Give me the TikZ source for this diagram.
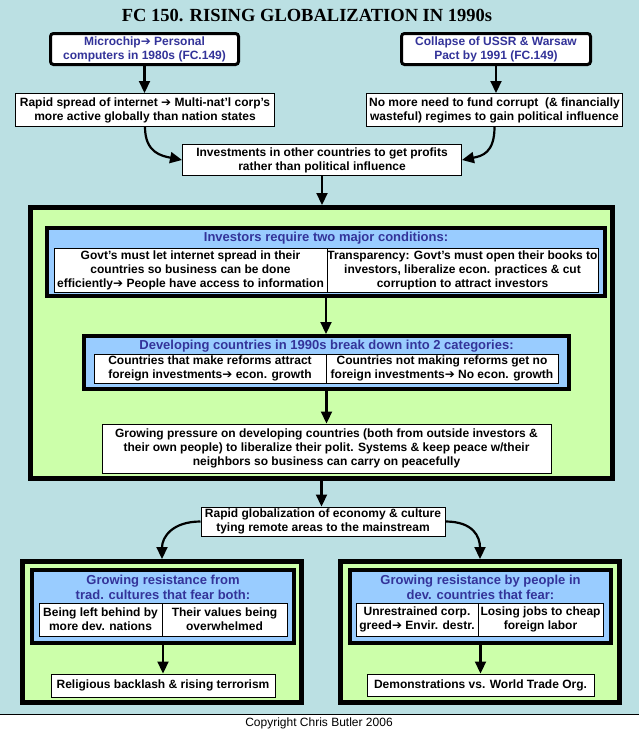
\documentclass[tikz,border=0pt]{standalone}
\usepackage{fontspec}
\setmainfont{Liberation Sans}
\newfontfamily\titlefont{Liberation Serif}
\newfontfamily\symfont{DejaVu Sans}
\usetikzlibrary{arrows.meta}
\definecolor{bgc}{HTML}{BBE0E3}
\definecolor{greenc}{HTML}{CCFFAA}
\definecolor{bluec}{HTML}{99CCFF}
\definecolor{tblue}{HTML}{333399}
\newcommand{\rarr}{{\symfont\fontsize{12}{12}\selectfont ➔}}
\newcommand{\mainfs}{\fontsize{12}{14}\selectfont\bfseries}
\newcommand{\titfs}{\fontsize{13}{15}\selectfont\bfseries}
\tikzset{
  wbox/.style={draw, fill=white, line width=1pt, inner sep=0pt, align=center, font=\mainfs},
  rbox/.style={draw, fill=white, line width=3pt, rounded corners=3pt, inner sep=0pt, align=center, font=\mainfs, text=tblue},
  gbox/.style={draw, fill=greenc, line width=5pt, inner sep=0pt},
  bbox/.style={draw, fill=bluec, line width=4pt, inner sep=0pt},
  btitle/.style={inner sep=0pt, align=center, font=\titfs, text=tblue},
  arr/.style={line width=2.2pt, -{Triangle[width=11pt,length=12pt]}}
}
\begin{document}
\begin{tikzpicture}[x=1pt,y=-1pt]
\useasboundingbox (0,0) rectangle (639,731);
\fill[bgc] (0,0) rectangle (639,714);
\fill[white] (0,714) rectangle (639,731);
\draw[line width=1pt] (0,714) -- (639,714);

\node[anchor=base, inner sep=0pt, font=\titlefont\bfseries\fontsize{18.5}{20}\selectfont] (title) at (307,21) {FC 150. RISING GLOBALIZATION IN 1990s};

\node[rbox, minimum width=188, minimum height=31] (micro) at (144.5,49) {Microchip\rarr{} Personal\\computers in 1980s (FC.149)};
\node[rbox, minimum width=189, minimum height=31] (coll) at (496,49) {Collapse of USSR \& Warsaw\\Pact by 1991 (FC.149)};

\node[wbox, minimum width=259, minimum height=33] (inet) at (145,110) {Rapid spread of internet \rarr{} Multi-nat’l corp’s\\more active globally than nation states};
\node[wbox, minimum width=256, minimum height=33] (nomore) at (494.5,110) {No more need to fund corrupt\ \ (\& financially\\wasteful) regimes to gain political influence};

\node[wbox, minimum width=279, minimum height=31] (inv) at (322,160) {Investments in other countries to get profits\\rather than political influence};

\node[gbox, minimum width=582, minimum height=271] (bigg) at (321.5,343) {};

\node[bbox, minimum width=558, minimum height=68] (req) at (326,262) {};
\node[btitle] (reqt) at (326,238) {Investors require two major conditions:};
\node[wbox, minimum width=273, minimum height=44] (req1) at (190.5,270) {Govt’s must let internet spread in their\\countries so business can be done\\efficiently\rarr{} People have access to information};
\node[wbox, minimum width=271, minimum height=44] (req2) at (462.5,270) {Transparency: Govt’s must open their books to\\investors, liberalize econ. practices \& cut\\corruption to attract investors};

\node[bbox, minimum width=485, minimum height=53] (dev) at (326.5,362.5) {};
\node[btitle] (devt) at (326.5,346) {Developing countries in 1990s break down into 2 categories:};
\node[wbox, minimum width=232, minimum height=29] (dev1) at (210,368.5) {Countries that make reforms attract\\foreign investments\rarr{} econ. growth};
\node[wbox, minimum width=232, minimum height=29] (dev2) at (442,368.5) {Countries not making reforms get no\\foreign investments\rarr{} No econ. growth};

\node[wbox, minimum width=449, minimum height=49] (press) at (326.5,448.5) {Growing pressure on developing countries (both from outside investors \&\\their own people) to liberalize their polit. Systems \& keep peace w/their\\neighbors so business can carry on peacefully};

\node[wbox, minimum width=244, minimum height=29] (rapid) at (323,521.5) {Rapid globalization of economy \& culture\\tying remote areas to the mainstream};

\node[gbox, minimum width=279, minimum height=141] (lg) at (162,632) {};
\node[bbox, minimum width=262, minimum height=73] (lb) at (163,606.5) {};
\node[btitle] (lbt) at (163,587.5) {Growing resistance from\\trad. cultures that fear both:};
\node[wbox, minimum width=123, minimum height=33] (lc1) at (100.5,619.5) {Being left behind by\\more dev. nations};
\node[wbox, minimum width=125, minimum height=33] (lc2) at (224.5,619.5) {Their values being\\overwhelmed};
\node[wbox, minimum width=224, minimum height=23] (rel) at (163,685.5) {Religious backlash \& rising terrorism};

\node[gbox, minimum width=279, minimum height=141] (rg) at (480,632) {};
\node[bbox, minimum width=261, minimum height=73] (rb) at (480.5,606.5) {};
\node[btitle] (rbt) at (480.5,587.5) {Growing resistance by people in\\dev. countries that fear:};
\node[wbox, minimum width=122, minimum height=33] (rc1) at (417,619.5) {Unrestrained corp.\\greed\rarr{} Envir. destr.};
\node[wbox, minimum width=125, minimum height=33] (rc2) at (540.5,619.5) {Losing jobs to cheap\\foreign labor};
\node[wbox, minimum width=227, minimum height=22] (demo) at (480.5,685) {Demonstrations vs. World Trade Org.};

\node[inner sep=0pt, font=\fontsize{12}{14}\selectfont] (copy) at (319,723) {Copyright Chris Butler 2006};

\draw[arr] (micro.south) -- (micro.south |- inet.north);
\draw[arr] (coll.south) -- (coll.south |- nomore.north);
\draw[arr] (inet.south) .. controls +(0,26) and +(-20,-4) .. (inv.west);
\draw[arr] (nomore.south) .. controls +(0,26) and +(20,-4) .. (inv.east);
\draw[arr] (inv.south) -- (inv.south |- bigg.north);
\draw[arr] (req.south) -- (req.south |- dev.north);
\draw[arr] (dev.south) -- (dev.south |- press.north);
\draw[arr] (bigg.south) -- (bigg.south |- rapid.north);
\draw[arr] (rapid.west) .. controls +(-28,0) and +(0,-22) .. (lg.north);
\draw[arr] (rapid.east) .. controls +(28,0) and +(0,-22) .. (rg.north);
\draw[arr] (lb.south) -- (lb.south |- rel.north);
\draw[arr] (rb.south) -- (rb.south |- demo.north);
\end{tikzpicture}
\end{document}
